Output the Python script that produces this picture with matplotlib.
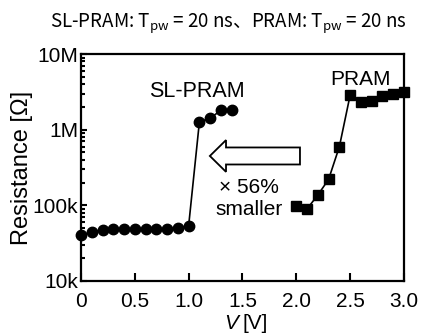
import matplotlib
matplotlib.use('Agg')
import matplotlib.pyplot as plt
from matplotlib.patches import FancyArrow
from matplotlib.ticker import FixedLocator, LogLocator, NullFormatter
import numpy as np

# SL-PRAM (circles)
v_sl = [0.0, 0.1, 0.2, 0.3, 0.4, 0.5, 0.6, 0.7, 0.8, 0.9, 1.0, 1.1, 1.2, 1.3, 1.4]
r_sl = [40e3, 45e3, 47e3, 48e3, 48e3, 49e3, 49e3, 49e3, 49e3, 50e3, 54e3,
        1.28e6, 1.41e6, 1.82e6, 1.82e6]

# PRAM (squares)
v_pr = [2.0, 2.1, 2.2, 2.3, 2.4, 2.5, 2.6, 2.7, 2.8, 2.9, 3.0]
r_pr = [97e3, 90e3, 137e3, 221e3, 597e3, 2.87e6, 2.34e6, 2.4e6, 2.79e6, 3.0e6, 3.12e6]

xticks = [0, 0.5, 1.0, 1.5, 2.0, 2.5, 3.0]
xticklabels = ['0', '0.5', '1.0', '1.5', '2.0', '2.5', '3.0']
yticks = [1e4, 1e5, 1e6, 1e7]
yticklabels = ['10k', '100k', '1M', '10M']

plt.rcParams['font.family'] = ['Liberation Sans', 'DejaVu Sans']
plt.rcParams['mathtext.fontset'] = 'custom'
plt.rcParams['mathtext.rm'] = 'Noto Sans CJK JP'
plt.rcParams['mathtext.it'] = 'Noto Sans CJK JP'

fig = plt.figure(figsize=(4.23, 3.36), dpi=100)
ax = fig.add_axes([0.1915, 0.1637, 0.7635, 0.6753])

ax.plot(v_sl, r_sl, '-', color='black', lw=1.2, marker='o', ms=7.5, mfc='black', mec='black', clip_on=False, zorder=3)
ax.plot(v_pr, r_pr, '-', color='black', lw=1.2, marker='s', ms=6.5, mfc='black', mec='black', clip_on=False, zorder=3)

ax.set_yscale('log')
ax.set_xlim(0, 3.0)
ax.set_ylim(1e4, 1e7)
ax.set_xticks(xticks)
ax.set_xticklabels(xticklabels)
ax.yaxis.set_major_locator(FixedLocator(yticks))
ax.set_yticklabels(yticklabels)
ax.yaxis.set_minor_locator(LogLocator(base=10, subs=np.arange(2, 10)))
ax.yaxis.set_minor_formatter(NullFormatter())

ax.tick_params(axis='both', which='major', direction='in', labelsize=15, width=1.5, length=6)
ax.tick_params(axis='y', which='major', length=4, pad=2)
ax.tick_params(axis='y', which='minor', direction='in', width=1.5, length=3)
ax.tick_params(axis='x', which='major', pad=8)
for s in ax.spines.values():
    s.set_linewidth(1.6)

ax.set_ylabel('Resistance [Ω]', fontsize=17, labelpad=0)

# x label with italic V
fig.text(0.531, 0.022, 'V', fontsize=15, ha='left', va='baseline', style='italic')
fig.text(0.574, 0.022, '[V]', fontsize=15, ha='left', va='baseline')

fig.text(0.5395, 0.93, r'SL-PRAM: T$_{\mathrm{pw}}$ = 20 ns、PRAM: T$_{\mathrm{pw}}$ = 20 ns',
         fontsize=13.5, ha='center', va='center', family='Noto Sans CJK JP')

ax.text(0.358, 0.837, 'SL-PRAM', transform=ax.transAxes, fontsize=15.5, ha='center', va='center')
ax.text(0.864, 0.888, 'PRAM', transform=ax.transAxes, fontsize=15, ha='center', va='center')
ax.text(0.519, 0.414, '× 56%', transform=ax.transAxes, fontsize=15, ha='center', va='center')
ax.text(0.519, 0.313, 'smaller', transform=ax.transAxes, fontsize=15, ha='center', va='center')

arrow = FancyArrow(0.678, 0.551, -0.279, 0, width=0.075, head_width=0.14, head_length=0.05,
                   length_includes_head=True, transform=ax.transAxes,
                   facecolor='white', edgecolor='black', lw=1.3, zorder=4)
ax.add_patch(arrow)

fig.savefig('out.png', dpi=100)
